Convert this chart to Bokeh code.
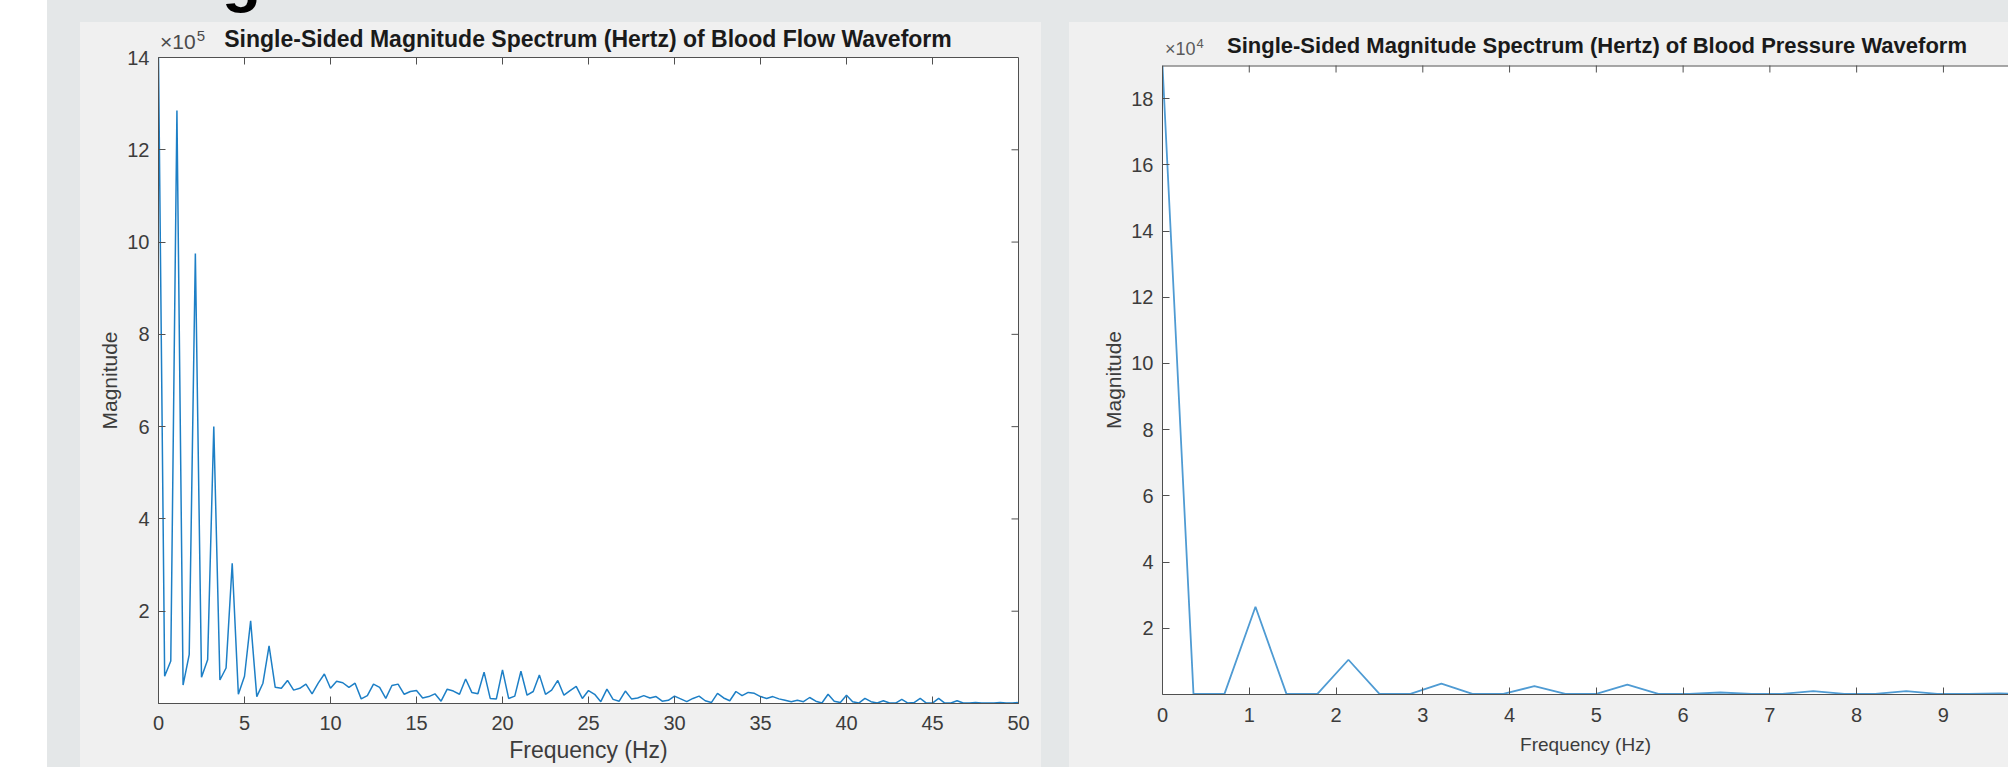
import math
from bokeh.plotting import figure
from bokeh.models import FixedTicker, Range1d, Spacer, Div
from bokeh.layouts import row, column
from bokeh.embed import file_html
from bokeh.resources import INLINE

# ---------------- data ----------------
BIN_HZ = 50 / 140          # FFT bin width (Hz)

# Blood flow spectrum magnitude, in units of 1e5
flow_mag_1e5 = [
    14.0, 0.59, 0.92, 12.85, 0.40, 1.06, 9.75, 0.57, 0.95, 6.00,
    0.51, 0.77, 3.04, 0.20, 0.59, 1.79, 0.15, 0.44, 1.25, 0.35,
    0.33, 0.50, 0.29, 0.33, 0.42, 0.21, 0.44, 0.64, 0.33, 0.48,
    0.45, 0.35, 0.44, 0.10, 0.17, 0.42, 0.35, 0.11, 0.39, 0.42,
    0.20, 0.26, 0.28, 0.12, 0.15, 0.21, 0.05, 0.31, 0.27, 0.20,
    0.53, 0.24, 0.21, 0.68, 0.11, 0.10, 0.73, 0.11, 0.16, 0.70,
    0.18, 0.26, 0.62, 0.20, 0.29, 0.50, 0.18, 0.28, 0.37, 0.11,
    0.28, 0.20, 0.04, 0.31, 0.09, 0.05, 0.27, 0.10, 0.12, 0.17,
    0.12, 0.15, 0.05, 0.07, 0.16, 0.10, 0.04, 0.11, 0.16, 0.06,
    0.02, 0.22, 0.12, 0.06, 0.26, 0.17, 0.24, 0.22, 0.15, 0.11,
    0.15, 0.10, 0.07, 0.04, 0.07, 0.04, 0.13, 0.05, 0.01, 0.20,
    0.05, 0.02, 0.18, 0.04, 0.01, 0.11, 0.04, 0.01, 0.06, 0.01,
    0.01, 0.09, 0.01, 0.02, 0.11, 0.01, 0.01, 0.11, 0.01, 0.01,
    0.06, 0.01, 0.01, 0.02, 0.01, 0.01, 0.01, 0.02, 0.01, 0.01,
    0.02,
]
flow_freq = [i * BIN_HZ for i in range(len(flow_mag_1e5))]

# Blood pressure spectrum magnitude, in units of 1e4
pressure_mag_1e4 = [
    19.0, 0.02, 0.02, 2.65, 0.02, 0.02, 1.05, 0.02, 0.02, 0.33,
    0.02, 0.02, 0.25, 0.02, 0.02, 0.30, 0.02, 0.02, 0.06, 0.02,
    0.02, 0.10, 0.02, 0.02, 0.10, 0.02, 0.02, 0.03, 0.02, 0.02,
]
pressure_freq = [i * BIN_HZ for i in range(len(pressure_mag_1e4))]

flow_xticks = [0, 5, 10, 15, 20, 25, 30, 35, 40, 45, 50]
flow_yticks = [2, 4, 6, 8, 10, 12, 14]
flow_ymax = 14
pressure_xticks = [0, 1, 2, 3, 4, 5, 6, 7, 8, 9]
pressure_yticks = [2, 4, 6, 8, 10, 12, 14, 16, 18]
pressure_ymax = 19

title_flow = "Single-Sided Magnitude Spectrum (Hertz) of Blood Flow Waveform"
title_pressure = "Single-Sided Magnitude Spectrum (Hertz) of Blood Pressure Waveform"
exp_flow = "5"
exp_pressure = "4"

# ---------------- styling ----------------
FONT = "Liberation Sans"
PANEL = "#f0f0f0"
OUTER = "#e4e7e8"
AXC = "#505050"
TXT = "#3c3c3c"
STRIP = 22
H = 767


def style_axis(ax, ticks, standoff, label_standoff, label_size):
    ax.ticker = FixedTicker(ticks=ticks)
    ax.major_tick_in = 7
    ax.major_tick_out = 0
    ax.minor_tick_in = 0
    ax.minor_tick_out = 0
    ax.axis_line_color = AXC
    ax.major_tick_line_color = AXC
    ax.major_label_text_font = FONT
    ax.major_label_text_font_size = "20px"
    ax.major_label_text_color = TXT
    ax.major_label_standoff = standoff
    ax.axis_label_text_font = FONT
    ax.axis_label_text_font_size = label_size
    ax.axis_label_text_font_style = "normal"
    ax.axis_label_text_color = TXT
    ax.axis_label_standoff = label_standoff


def header(width, items):
    # grey strip above the panel; title texts overflow downward onto the (transparent) figure border
    html = (f'<div style="position:relative;width:{width}px;height:{STRIP}px;overflow:visible;'
            f'background:{OUTER};margin:0;padding:0;">' + items + '</div>')
    return Div(text=html, width=width, height=STRIP,
               styles={"padding": "0px", "margin": "0px", "overflow": "visible", "z-index": "2"})


def title_html(text, center_x, top, size):
    return (f'<div style="position:absolute;left:{center_x - 600}px;top:{top}px;width:1200px;'
            f'text-align:center;white-space:nowrap;font-family:\'{FONT}\';font-weight:bold;'
            f'font-size:{size}px;line-height:{size}px;color:#1a1a1a;">{text}</div>')


def exp_html(exp, left, top, size, sup_size, raise_px, color):
    return (f'<div style="position:absolute;left:{left}px;top:{top}px;white-space:nowrap;'
            f'font-family:\'{FONT}\';font-size:{size}px;line-height:{size}px;color:{color};">'
            f'×10<span style="font-size:{sup_size}px;position:relative;top:-{raise_px}px;'
            f'margin-left:1px;">{exp}</span></div>')


# ---------------- left: blood flow ----------------
pL = figure(width=961, height=H - STRIP, x_range=Range1d(0, 50), y_range=Range1d(0, flow_ymax),
            output_backend="svg", toolbar_location=None,
            min_border_left=78, min_border_right=23, min_border_top=57 - STRIP,
            min_border_bottom=(H - STRIP) - (703 - STRIP),
            background_fill_color="white", border_fill_color=PANEL, border_fill_alpha=0,
            outline_line_color=AXC)
pL.grid.visible = False
pL.line(flow_freq, flow_mag_1e5, line_color="#1d7fc6", line_width=1.5)
style_axis(pL.xaxis[0], flow_xticks, standoff=12, label_standoff=4, label_size="23px")
pL.xaxis.axis_label = "Frequency (Hz)"
style_axis(pL.yaxis[0], flow_yticks, standoff=9, label_standoff=3, label_size="21px")
pL.yaxis.axis_label = "Magnitude"
# box ticks on the top and right edges (inward)
pL.scatter(flow_xticks[1:-1], [flow_ymax] * len(flow_xticks[1:-1]), marker="dash", size=14,
           angle=math.pi / 2, line_color=AXC, line_width=1)
pL.scatter([50] * len(flow_yticks[:-1]), flow_yticks[:-1], marker="dash", size=14,
           line_color=AXC, line_width=1)

headL = header(961,
               '<div style="position:absolute;left:142px;top:-54px;font-family:\'Liberation Sans\';'
               'font-weight:bold;font-size:64px;line-height:64px;color:#000;">g</div>'
               + title_html(title_flow, 508, 28, 23)
               + exp_html(exp_flow, 80, 31, 21, 15, 8, "#4a4a4a"))

# ---------------- right: blood pressure ----------------
pR = figure(width=939, height=H - STRIP, x_range=Range1d(0, 9.75), y_range=Range1d(0, pressure_ymax),
            output_backend="svg", toolbar_location=None,
            min_border_left=93, min_border_right=0, min_border_top=65 - STRIP,
            min_border_bottom=(H - STRIP) - (694 - STRIP),
            background_fill_color="white", border_fill_color=PANEL, border_fill_alpha=0,
            outline_line_color=None)
pR.grid.visible = False
pR.line(pressure_freq, pressure_mag_1e4, line_color="#4f9bd3", line_width=1.8)
style_axis(pR.xaxis[0], pressure_xticks, standoff=13, label_standoff=9, label_size="19px")
pR.xaxis.axis_label = "Frequency (Hz)"
style_axis(pR.yaxis[0], pressure_yticks, standoff=9, label_standoff=3, label_size="21px")
pR.yaxis.axis_label = "Magnitude"
# top border line and inward ticks
pR.line([0, 9.75], [pressure_ymax, pressure_ymax], line_color=AXC, line_width=2)
pR.scatter(pressure_xticks[1:], [pressure_ymax] * len(pressure_xticks[1:]), marker="dash", size=14,
           angle=math.pi / 2, line_color=AXC, line_width=1)

headR = header(939,
               title_html(title_pressure, 528, 35, 22)
               + exp_html(exp_pressure, 96, 40, 18, 13, 7, "#5a5a5a"))

# ---------------- page layout ----------------
layout = row(
    Spacer(width=47, height=H, styles={"background-color": "white"}),
    Spacer(width=33, height=H, styles={"background-color": OUTER}),
    column(headL, pL, spacing=0, styles={"background-color": PANEL}),
    Spacer(width=28, height=H, styles={"background-color": OUTER}),
    column(headR, pR, spacing=0, styles={"background-color": PANEL}),
    spacing=0, styles={"background-color": OUTER},
)

open("out.html", "w").write(file_html(layout, INLINE))
